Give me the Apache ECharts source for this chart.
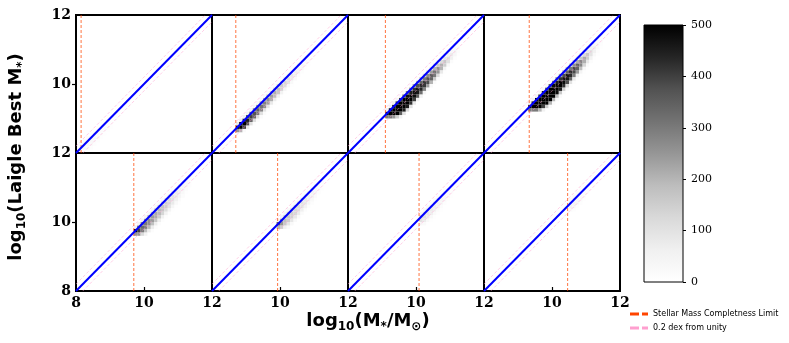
<!DOCTYPE html>
<html>
<head>
<meta charset="utf-8">
<script src="https://cdn.jsdelivr.net/npm/echarts@6/dist/echarts.min.js"></script>
<style>html,body{margin:0;padding:0;background:#fff}#chart{width:789px;height:343px}</style>
</head>
<body>
<div id="chart"></div>
<script>
// bin width in dex, and y-offset (in bins) of each entry of a column relative to the y=x bin
const BIN = 0.1;
const offsets = [-6, -5, -4, -3, -2, -1, 0, 1];

// completeness limit of each panel (dashed vertical line)
const limits = [8.15, 8.7, 9.1, 9.33, 9.7, 9.93, 10.09, 10.46];
// x of the first filled column in each panel
const firstBin = [8.1, 8.7, 9.1, 9.3, 9.7, 9.9, 10.1, 10.5];

// counts per x column (offsets -6..+1)
const p1 = [
  [0,0,0,0,0,0,35,15],[0,0,0,0,0,30,35,15],[0,0,0,0,20,30,30,12],[0,0,0,10,22,28,25,10],
  [0,0,0,10,20,25,20,8],[0,0,0,8,16,20,16,6],[0,0,0,6,12,15,12,5],[0,0,0,5,10,12,9,4],
  [0,0,0,4,8,9,7,3],[0,0,0,3,5,6,4,2],[0,0,0,2,3,4,3,0],[0,0,0,0,2,3,2,0]
];
const p2 = [
  [0,0,0,0,0,250,500,80],[0,0,0,0,200,500,500,80],[0,0,0,20,400,500,450,60],[0,0,0,80,380,450,380,50],
  [0,0,0,100,350,400,330,40],[0,0,10,110,330,370,290,35],[0,0,15,110,300,340,260,30],[0,0,15,100,280,310,230,25],
  [0,0,15,95,260,285,200,20],[0,0,12,90,235,260,180,15],[0,0,10,80,210,235,155,12],[0,0,10,70,185,210,130,10],
  [0,0,8,60,160,180,110,8],[0,0,6,50,135,155,90,6],[0,0,5,42,110,130,72,5],[0,0,4,34,90,105,55,4],
  [0,0,3,26,72,82,42,3],[0,0,2,20,55,62,32,2],[0,0,0,14,40,46,22,0],[0,0,0,9,28,32,14,0],
  [0,0,0,5,17,20,8,0],[0,0,0,3,9,11,4,0],[0,0,0,0,4,5,2,0]
];
const p3 = [
  [0,0,0,0,0,300,500,60],[0,0,0,0,300,500,500,60],[0,0,0,250,500,500,480,50],[0,0,150,500,500,500,450,40],
  [0,50,350,500,500,500,400,30],[0,100,450,500,500,500,350,25],[0,120,450,500,500,480,300,20],[0,100,420,500,500,450,260,15],
  [0,80,400,480,480,420,220,12],[0,60,360,460,460,380,190,10],[0,50,320,440,440,340,160,8],[0,40,280,410,410,300,130,6],
  [0,30,240,380,380,270,100,5],[0,25,200,340,350,240,80,4],[0,20,160,300,310,200,60,3],[0,15,120,250,260,160,45,2],
  [0,10,80,200,210,120,30,0],[0,6,50,150,160,90,20,0],[0,4,30,100,110,60,12,0],[0,0,18,60,70,38,8,0],
  [0,0,10,32,40,22,4,0],[0,0,4,14,18,10,2,0]
];
const p4 = [
  [0,0,0,0,0,300,500,60],[0,0,0,0,300,500,500,60],[0,0,0,300,500,500,500,50],[0,0,200,500,500,500,480,40],
  [0,60,400,500,500,500,450,30],[0,150,500,500,500,500,400,25],[20,200,500,500,500,500,350,20],[20,200,500,500,500,480,300,15],
  [20,180,480,500,500,450,260,12],[20,160,450,500,500,420,220,10],[15,140,420,480,480,380,190,8],[15,120,380,460,460,340,160,6],
  [10,100,340,430,430,300,130,5],[10,80,290,390,390,260,100,4],[8,60,240,340,340,210,75,3],[5,45,180,280,280,160,55,2],
  [4,30,130,210,220,120,40,0],[3,20,85,150,160,85,25,0],[2,12,50,95,100,55,15,0],[0,6,25,55,60,30,8,0],
  [0,3,12,25,30,15,4,0],[0,0,5,10,12,6,2,0]
];
const p5 = [
  [0,0,0,0,0,250,500,60],[0,0,0,0,250,400,350,50],[0,0,0,120,300,330,270,45],[0,0,50,180,290,300,240,40],
  [0,0,70,190,265,265,205,35],[0,12,72,180,240,240,180,30],[0,12,72,168,216,216,156,25],[0,12,66,150,192,192,132,20],
  [0,10,60,132,168,168,114,15],[0,10,54,114,144,144,96,12],[0,7,45,96,120,120,78,10],[0,6,36,78,96,96,60,8],
  [0,5,26,60,72,72,45,5],[0,4,18,42,50,50,31,3],[0,2,12,26,34,34,19,2],[0,0,6,14,19,19,11,0],[0,0,2,7,10,10,5,0]
];
const p6 = [
  [0,0,0,0,0,200,350,40],[0,0,0,0,150,250,220,40],[0,0,0,60,160,180,160,35],[0,0,20,90,150,160,140,30],
  [0,0,25,90,140,145,120,25],[0,0,25,85,125,130,105,20],[0,0,22,75,110,115,90,15],[0,0,18,62,95,100,75,12],
  [0,0,14,50,78,82,60,10],[0,0,10,38,60,64,46,8],[0,0,7,26,44,46,32,5],[0,0,4,16,28,30,20,3],
  [0,0,2,8,15,16,10,2],[0,0,0,3,6,7,4,0]
];
const p7 = [
  [0,0,0,0,30,100,130,40],[0,0,0,20,70,100,90,35],[0,0,0,25,70,85,75,30],[0,0,5,25,62,75,65,25],
  [0,0,5,22,55,65,55,20],[0,0,4,18,45,55,45,15],[0,0,3,14,35,42,35,12],[0,0,2,10,25,30,24,8],
  [0,0,0,6,15,18,14,5],[0,0,0,3,8,10,7,3],[0,0,0,0,4,5,3,0]
];
const p8 = [
  [0,0,0,0,20,50,60,25],[0,0,0,10,30,45,40,20],[0,0,0,10,28,35,30,15],[0,0,0,8,20,25,20,10],
  [0,0,0,5,12,15,12,6],[0,0,0,2,6,8,6,3]
];
const panels = [p1, p2, p3, p4, p5, p6, p7, p8];

const greys = ['#ffffff','#f0f0f0','#d9d9d9','#bdbdbd','#969696','#737373','#525252','#252525','#000000'];

const r1 = v => Math.round(v * 10) / 10;

function cells(i) {
  const out = [];
  panels[i].forEach((col, c) => {
    const x = r1(firstBin[i] + c * BIN);
    col.forEach((n, k) => {
      if (n > 0) out.push([x, r1(x + offsets[k] * BIN), n]);
    });
  });
  return out;
}

function renderCell(params, api) {
  const x = api.value(0), y = api.value(1);
  const a = api.coord([x, y]);
  const b = api.coord([x + BIN, y + BIN]);
  return {
    type: 'rect',
    shape: { x: a[0], y: b[1], width: b[0] - a[0], height: a[1] - b[1] },
    style: { fill: api.visual('color') }
  };
}

const lefts = [76, 212, 348, 484];
const tops = [15, 153];
const tickFont = { fontFamily: 'DejaVu Serif', fontWeight: 'bold', fontSize: 14, color: '#000' };

const grid = [], xAxis = [], yAxis = [], series = [], heatIdx = [];
for (let i = 0; i < 8; i++) {
  const row = Math.floor(i / 4), col = i % 4;
  grid.push({ left: lefts[col], top: tops[row], width: 136, height: 138, show: true, borderColor: '#000', borderWidth: 2, backgroundColor: 'transparent' });
  xAxis.push({
    gridIndex: i, type: 'value', min: 8, max: 12, interval: 2,
    axisLine: { show: false }, splitLine: { show: false },
    axisTick: { show: row === 1, inside: true, length: 4, customValues: [10], lineStyle: { color: '#000', width: 1.2 } },
    axisLabel: { show: row === 1, showMinLabel: col === 0, margin: 5, ...tickFont }
  });
  yAxis.push({
    gridIndex: i, type: 'value', min: 8, max: 12, interval: 2,
    axisLine: { show: false }, splitLine: { show: false },
    axisTick: { show: col === 0, length: 4, customValues: [10], lineStyle: { color: '#000', width: 1.2 } },
    axisLabel: { show: col === 0, showMinLabel: row === 1, margin: 5, ...tickFont }
  });
  heatIdx.push(series.length);
  series.push({ type: 'custom', xAxisIndex: i, yAxisIndex: i, data: cells(i), renderItem: renderCell, clip: true, silent: true, z: 1 });
  const pink = { color: '#ff9fcf', width: 1, type: [3, 2], opacity: 0.5 };
  series.push({ name: '0.2 dex from unity', type: 'line', xAxisIndex: i, yAxisIndex: i, data: [[8, 8.2], [11.8, 12]], symbol: 'none', lineStyle: pink, itemStyle: { color: '#ff9fcf' }, silent: true, z: 2 });
  series.push({ name: '0.2 dex from unity', type: 'line', xAxisIndex: i, yAxisIndex: i, data: [[8.2, 8], [12, 11.8]], symbol: 'none', lineStyle: pink, itemStyle: { color: '#ff9fcf' }, silent: true, z: 2 });
  series.push({ name: 'Stellar Mass Completness Limit', type: 'line', xAxisIndex: i, yAxisIndex: i, data: [[limits[i], 8], [limits[i], 12]], symbol: 'none', lineStyle: { color: '#ff4500', width: 1, type: [3, 2], opacity: 0.75 }, itemStyle: { color: '#ff4500' }, silent: true, z: 3 });
  series.push({ type: 'line', xAxisIndex: i, yAxisIndex: i, data: [[8, 8], [12, 12]], symbol: 'none', lineStyle: { color: '#0000ff', width: 2 }, silent: true, z: 4 });
}

// colorbar
grid.push({ left: 644, top: 25, width: 39, height: 257, show: true, borderColor: '#000', borderWidth: 1, backgroundColor: 'transparent', z: 5 });
xAxis.push({ gridIndex: 8, type: 'category', data: ['c'], show: false });
yAxis.push({
  gridIndex: 8, type: 'value', position: 'right', min: 0, max: 500, interval: 100,
  axisLine: { show: false }, splitLine: { show: false },
  axisTick: { show: true, length: 3, lineStyle: { color: '#000', width: 1 } },
  axisLabel: { margin: 8, fontFamily: 'DejaVu Serif', fontSize: 11, color: '#000' }
});
series.push({
  type: 'bar', xAxisIndex: 8, yAxisIndex: 8, data: [500], barWidth: '100%', silent: true,
  itemStyle: { color: new echarts.graphic.LinearGradient(0, 1, 0, 0, greys.map((c, k) => ({ offset: k / (greys.length - 1), color: c }))) }
});

const titleStyle = {
  align: 'center', verticalAlign: 'middle',
  fontFamily: 'DejaVu Sans', fontWeight: 'bold', fontSize: 18, fill: '#000', lineHeight: 24,
  rich: { s: { fontFamily: 'DejaVu Sans', fontWeight: 'bold', fontSize: 12, verticalAlign: 'bottom', lineHeight: 18 } }
};

const chart = echarts.init(document.getElementById('chart'));
chart.setOption({
  animation: false,
  grid, xAxis, yAxis, series,
  visualMap: { show: false, type: 'continuous', min: 0, max: 500, dimension: 2, seriesIndex: heatIdx, inRange: { color: greys } },
  legend: {
    orient: 'vertical', left: 625, top: 305, itemWidth: 18, itemHeight: 3, itemGap: 6,
    textStyle: { fontFamily: 'DejaVu Sans', fontSize: 8, color: '#000' },
    data: [
      { name: 'Stellar Mass Completness Limit', icon: 'path://M0,0h9v3h-9zM12,0h6v3h-6z', itemStyle: { color: '#ff4500', opacity: 1 } },
      { name: '0.2 dex from unity', icon: 'path://M0,0h9v3h-9zM12,0h6v3h-6z', itemStyle: { color: '#ff9fcf', opacity: 1 } }
    ],
    selectedMode: false
  },
  graphic: [
    { type: 'text', x: 16, y: 157, rotation: Math.PI / 2, style: { text: 'log{s|10}(Laigle Best M{s|*})', ...titleStyle } },
    { type: 'text', x: 368, y: 321, style: { text: 'log{s|10}(M{s|*}/M{s|⊙})', ...titleStyle } }
  ]
});
</script>
</body>
</html>
